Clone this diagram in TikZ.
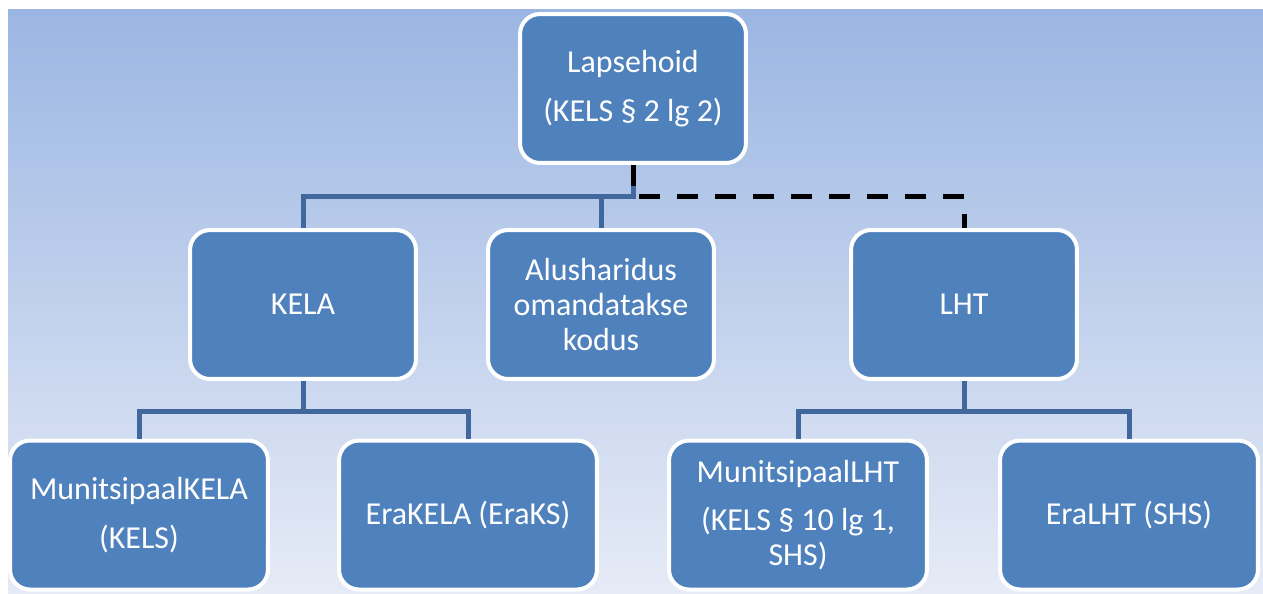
\documentclass[tikz,border=0pt]{standalone}
\usepackage{fontspec}
\setmainfont{Carlito}
\usetikzlibrary{positioning}

\definecolor{boxblue}{RGB}{79,129,189}
\definecolor{linkblue}{RGB}{65,104,156}
\definecolor{bgtop}{RGB}{155,182,227}
\definecolor{bgbottom}{RGB}{230,235,246}

\tikzset{
	box/.style={draw=white, line width=0.08cm, fill=boxblue, rounded corners=0.4cm,
		text=white, align=center, minimum width=4.52cm, minimum height=2.98cm, inner sep=2pt,
		font=\fontsize{18.2}{19.8}\selectfont},
	widebox/.style={box, minimum width=5.16cm},
	link/.style={draw=linkblue, line width=0.1cm},
	dashlink/.style={draw=black, line width=0.1cm, dash pattern=on 0.42cm off 0.34cm}
}

\begin{document}
\begin{tikzpicture}[x=0.02cm, y=-0.02cm]
	\useasboundingbox (0,0) rectangle (1263,593);
	\shade[top color=bgtop, bottom color=bgbottom] (8,9) rectangle (1263,593);

	% levels
	\node[box] (hoid) at (633,88.5) {Lapsehoid\\[8pt](KELS § 2 lg 2)};
	\node[box] (kela) at (303,304.5) {KELA};
	\node[box] (kodu) at (601,304.5) {Alusharidus\\omandatakse\\kodus};
	\node[box] (lht) at (964,304.5) {LHT};
	\node[widebox] (mkela) at (139,515) {MunitsipaalKELA\\[8pt](KELS)};
	\node[widebox] (erakela) at (468,515) {EraKELA (EraKS)};
	\node[widebox] (mlht) at (798,515) {MunitsipaalLHT\\[8pt](KELS § 10 lg 1,\\SHS)};
	\node[widebox] (eralht) at (1129,515) {EraLHT (SHS)};

	% connectors
	\draw[link] (hoid.south) -- ++(0,32) -| (kela.north);
	\draw[link] (hoid.south) -- ++(0,32) -| (kodu.north);
	\draw[dashlink] (hoid.south) -- ++(0,32) -| (lht.north);
	\draw[link] (kela.south) -- ++(0,31) -| (mkela.north);
	\draw[link] (kela.south) -- ++(0,31) -| (erakela.north);
	\draw[link] (lht.south) -- ++(0,31) -| (mlht.north);
	\draw[link] (lht.south) -- ++(0,31) -| (eralht.north);
\end{tikzpicture}
\end{document}
